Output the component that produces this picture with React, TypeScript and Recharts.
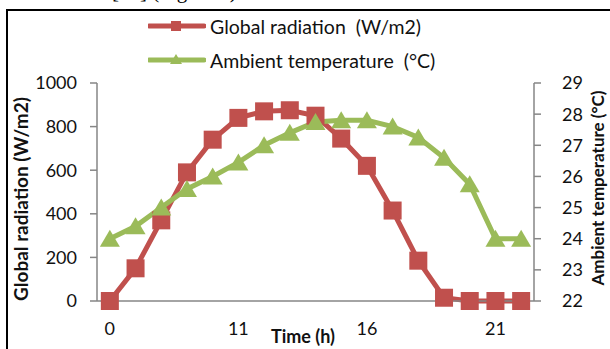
import { LineChart, Line, XAxis, YAxis, Legend } from "recharts";

const hours = ["0", "7", "8", "9", "10", "11", "12", "13", "14", "15", "16", "17", "18", "19", "20", "21", "22"];
const radiation = [0, 150, 370, 590, 740, 840, 870, 875, 850, 745, 620, 415, 185, 15, 0, 0, 0];
const temperature = [24.0, 24.4, 25.0, 25.6, 26.0, 26.45, 27.0, 27.4, 27.75, 27.8, 27.8, 27.6, 27.25, 26.6, 25.75, 24.0, 24.0];
const radiationTicks = [0, 200, 400, 600, 800, 1000];
const temperatureTicks = [22, 23, 24, 25, 26, 27, 28, 29];

const data = hours.map((h, i) => ({ hour: h, radiation: radiation[i], temperature: temperature[i] }));

const RED = "#C0504D";
const GREEN = "#9BBB59";
const AXIS = "#868686";
const FONT = "Lato, 'Open Sans', sans-serif";

const tickStyle = { fontSize: 18, fill: "#111", fontFamily: FONT };

function SquareDot(props: any) {
  const { cx, cy, index } = props;
  if (cx == null || cy == null) return null;
  return <rect key={`sq-${index}`} x={cx - 9} y={cy - 9} width={18} height={18} fill={RED} />;
}

function TriangleDot(props: any) {
  const { cx, cy, index } = props;
  if (cx == null || cy == null) return null;
  const s = 10;
  return (
    <polygon
      key={`tr-${index}`}
      points={`${cx},${cy - 9} ${cx - s},${cy + 8} ${cx + s},${cy + 8}`}
      fill={GREEN}
    />
  );
}

function LegendContent() {
  const rows = [
    { color: RED, text: "Global radiation  (W/m2)", shape: "square" },
    { color: GREEN, text: "Ambient temperature  (°C)", shape: "triangle" },
  ];
  return (
    <div style={{ fontFamily: FONT, fontSize: 19.5, color: "#111" }}>
      {rows.map((r) => (
        <div key={r.text} style={{ display: "flex", alignItems: "center", height: 34 }}>
          <svg width={58} height={14} style={{ marginRight: 4 }}>
            <line x1={1} y1={7} x2={56} y2={7} stroke={r.color} strokeWidth={5} strokeLinecap="round" />
            {r.shape === "square" ? (
              <rect x={23} y={2} width={10} height={10} fill={r.color} />
            ) : (
              <polygon points="28,1 22,11 34,11" fill={r.color} />
            )}
          </svg>
          <span style={{ whiteSpace: "pre" }}>{r.text}</span>
        </div>
      ))}
    </div>
  );
}

export default function App() {
  return (
    <div style={{ position: "absolute", left: 0, top: 0, width: 610, height: 349, overflow: "hidden", background: "#fff" }}>
      <div
        style={{
          position: "absolute",
          left: 0,
          top: -19,
          width: 232,
          textAlign: "right",
          whiteSpace: "nowrap",
          fontFamily: "'Liberation Serif', 'DejaVu Serif', serif",
          fontSize: 21,
          lineHeight: 1,
        }}
      >
        the literature [14] (Figure 3).
      </div>
      <div
        style={{ position: "absolute", left: 6, top: 9, width: 700, height: 500, border: "2px solid #000" }}
      />
      <div style={{ position: "absolute", left: 0, top: 0 }}>
        <LineChart width={610} height={349} data={data} margin={{ top: 83, right: 0, bottom: 0, left: 0 }}>
          <XAxis
            dataKey="hour"
            interval={4}
            height={48}
            padding={{ left: 12.85, right: 12.85 }}
            tickLine={false}
            tickSize={0}
            tickMargin={21}
            axisLine={{ stroke: AXIS, strokeWidth: 1.5 }}
            tick={tickStyle}
            label={{
              content: () => (
                <text x={303} y={343} textAnchor="middle" fontFamily={FONT} fontWeight="bold" fontSize={18} fill="#111">
                  Time (h)
                </text>
              ),
            }}
          />
          <YAxis
            yAxisId="left"
            width={97}
            domain={[0, 1000]}
            ticks={radiationTicks}
            tickSize={7}
            tickMargin={13}
            tickLine={{ stroke: AXIS, strokeWidth: 1.5 }}
            axisLine={{ stroke: AXIS, strokeWidth: 1.5 }}
            tick={tickStyle}
            label={{
              content: () => (
                <text
                  transform="translate(28,199) rotate(-90)"
                  textAnchor="middle"
                  fontFamily={FONT}
                  fontWeight="bold"
                  fontSize={19}
                  fill="#111"
                >
                  Global radiation (W/m2)
                </text>
              ),
            }}
          />
          <YAxis
            yAxisId="right"
            orientation="right"
            width={76}
            domain={[22, 29]}
            ticks={temperatureTicks}
            tickSize={7}
            tickMargin={21}
            tickLine={{ stroke: AXIS, strokeWidth: 1.5 }}
            axisLine={{ stroke: AXIS, strokeWidth: 1.5 }}
            tick={{ ...tickStyle, textAnchor: "start" }}
            label={{
              content: () => (
                <text
                  transform="translate(604,188) rotate(-90)"
                  textAnchor="middle"
                  fontFamily={FONT}
                  fontWeight="bold"
                  fontSize={17}
                  fill="#111"
                >
                  Ambient temperature (°C)
                </text>
              ),
            }}
          />
          <Legend
            layout="vertical"
            align="center"
            verticalAlign="middle"
            content={() => <LegendContent />}
            wrapperStyle={{ position: "absolute", top: 9, left: 148, width: 320 }}
          />
          <Line
            yAxisId="left"
            dataKey="radiation"
            stroke={RED}
            strokeWidth={5}
            dot={SquareDot}
            activeDot={false}
            isAnimationActive={false}
          />
          <Line
            yAxisId="right"
            dataKey="temperature"
            stroke={GREEN}
            strokeWidth={5}
            dot={TriangleDot}
            activeDot={false}
            isAnimationActive={false}
          />
        </LineChart>
      </div>
    </div>
  );
}
